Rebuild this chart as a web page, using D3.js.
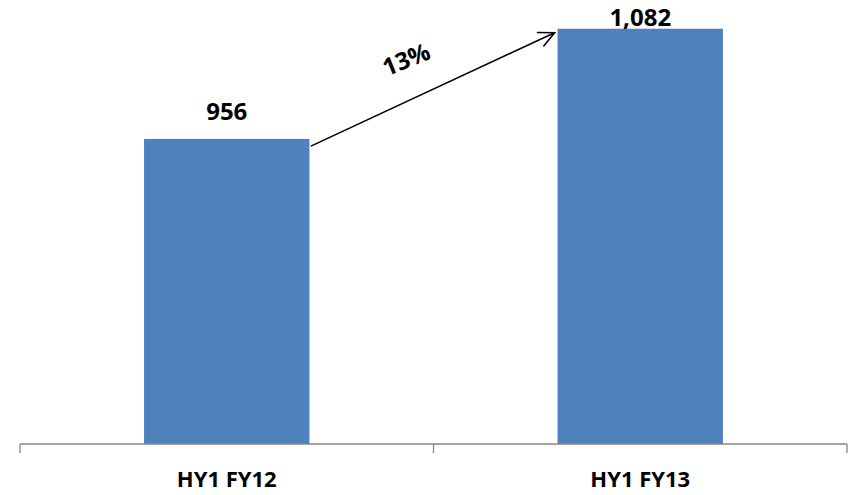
<!DOCTYPE html>
<html>
<head>
<meta charset="utf-8">
<script src="https://cdn.jsdelivr.net/npm/d3@7"></script>
<style>
  html, body { margin: 0; padding: 0; background: #fff; }
  svg { display: block; }
  text { font-family: "Open Sans", "Liberation Sans", sans-serif; font-weight: 700; fill: #000; }
</style>
</head>
<body>
<svg id="chart" width="858" height="495"></svg>
<script>
// Half-year totals
const categories = ["HY1 FY12", "HY1 FY13"];
const values = [956, 1082];
const yDomain = [607, 1100];

const W = 858, H = 495;
const plot = { left: 20, right: 847, top: 13, bottom: 444 };

const svg = d3.select("#chart");

const x = d3.scaleBand()
  .domain(categories)
  .range([plot.left, plot.right])
  .paddingInner(0.6)
  .paddingOuter(0.3);

const y = d3.scaleLinear()
  .domain(yDomain)
  .range([plot.bottom, plot.top]);

// Bars
svg.selectAll("rect.bar")
  .data(values)
  .join("rect")
  .attr("class", "bar")
  .attr("x", (d, i) => x(categories[i]))
  .attr("y", d => y(d))
  .attr("width", x.bandwidth())
  .attr("height", d => plot.bottom - y(d))
  .attr("fill", "#4F81BD");

// Category axis with tick marks at band boundaries
const axisG = svg.append("g").attr("stroke", "#868686").attr("stroke-width", 1.3);
axisG.append("line")
  .attr("x1", plot.left).attr("x2", plot.right)
  .attr("y1", plot.bottom).attr("y2", plot.bottom);
const step = x.step();
const boundaries = d3.range(categories.length + 1).map(i => plot.left + i * step);
axisG.selectAll("line.tick")
  .data(boundaries)
  .join("line")
  .attr("class", "tick")
  .attr("x1", d => d).attr("x2", d => d)
  .attr("y1", plot.bottom).attr("y2", plot.bottom + 9);

svg.selectAll("text.cat")
  .data(categories)
  .join("text")
  .attr("class", "cat")
  .attr("x", d => x(d) + x.bandwidth() / 2)
  .attr("y", 487)
  .attr("text-anchor", "middle")
  .attr("font-size", 22)
  .text(d => d);

// Value labels above the bars (kept inside the top edge)
const fmt = d3.format(",");
svg.selectAll("text.val")
  .data(values)
  .join("text")
  .attr("class", "val")
  .attr("x", (d, i) => x(categories[i]) + x.bandwidth() / 2)
  .attr("y", d => Math.max(y(d) - 19, 26))
  .attr("text-anchor", "middle")
  .attr("font-size", 24)
  .text(d => fmt(d));

// Growth arrow between the two bars
const x0 = x(categories[0]) + x.bandwidth() + 2;
const y0 = y(values[0]) + 7;
const x1 = x(categories[1]) - 3;
const y1 = y(values[1]) + 4;
const ang = Math.atan2(y1 - y0, x1 - x0);
const headLen = 17, headSpread = 0.45;

const arrow = svg.append("g")
  .attr("stroke", "#000")
  .attr("stroke-width", 1.6)
  .attr("fill", "none")
  .attr("stroke-linecap", "round");
arrow.append("line")
  .attr("x1", x0).attr("y1", y0)
  .attr("x2", x1).attr("y2", y1);
arrow.append("path")
  .attr("d", d3.line()([
    [x1 - headLen * Math.cos(ang - headSpread), y1 - headLen * Math.sin(ang - headSpread)],
    [x1, y1],
    [x1 - headLen * Math.cos(ang + headSpread), y1 - headLen * Math.sin(ang + headSpread)]
  ]));

const growth = values[1] / values[0] - 1;
const mx = (x0 + x1) / 2 - 26, my = (y0 + y1) / 2 - 28;
svg.append("text")
  .attr("transform", `translate(${mx},${my}) rotate(-22)`)
  .attr("text-anchor", "middle")
  .attr("dominant-baseline", "middle")
  .attr("font-size", 24)
  .text(d3.format(".0%")(growth));
</script>
</body>
</html>
